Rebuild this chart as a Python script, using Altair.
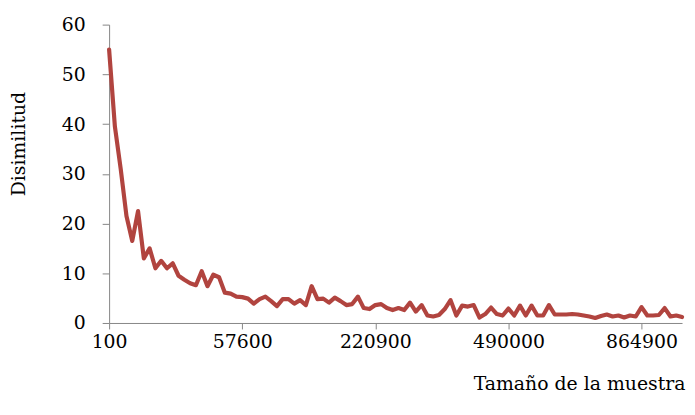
import altair as alt
import pandas as pd

# Sample sizes (categories on the x axis)
sample_sizes = [
    100, 400, 900, 1600, 2500, 3600, 4900, 6400, 8100, 10000,
    12100, 14400, 16900, 19600, 22500, 25600, 28900, 32400, 36100, 40000,
    44100, 48400, 52900, 57600, 62500, 67600, 72900, 78400, 84100, 90000,
    96100, 102400, 108900, 115600, 122500, 129600, 136900, 144400, 152100, 160000,
    168100, 176400, 184900, 193600, 202500, 211600, 220900, 230400, 240100, 250000,
    260100, 270400, 280900, 291600, 302500, 313600, 324900, 336400, 348100, 360000,
    372100, 384400, 396900, 409600, 422500, 435600, 448900, 462400, 476100, 490000,
    504100, 518400, 532900, 547600, 562500, 577600, 592900, 608400, 624100, 640000,
    656100, 672400, 688900, 705600, 722500, 739600, 756900, 774400, 792100, 810000,
    828100, 846400, 864900, 883600, 902500, 921600, 940900, 960400, 980100, 1000000,
]

# Dissimilarity values
dissimilarity = [
    55.0, 39.5, 31.0, 21.5, 16.5, 22.5, 13.0, 15.0, 11.0, 12.5,
    11.0, 12.0, 9.5, 8.7, 8.0, 7.6, 10.4, 7.4, 9.7, 9.2,
    6.1, 5.9, 5.3, 5.2, 4.9, 3.9, 4.8, 5.3, 4.4, 3.4,
    4.8, 4.8, 3.9, 4.6, 3.6, 7.4, 4.8, 4.9, 4.1, 5.1,
    4.4, 3.6, 3.8, 5.3, 3.0, 2.8, 3.6, 3.8, 3.0, 2.6,
    3.0, 2.6, 4.1, 2.3, 3.6, 1.5, 1.3, 1.6, 2.8, 4.6,
    1.5, 3.5, 3.3, 3.6, 1.1, 1.8, 3.1, 1.8, 1.5, 2.9,
    1.5, 3.5, 1.5, 3.5, 1.5, 1.5, 3.6, 1.7, 1.7, 1.7,
    1.8, 1.7, 1.5, 1.3, 1.0, 1.4, 1.7, 1.3, 1.5, 1.1,
    1.5, 1.3, 3.2, 1.5, 1.5, 1.6, 3.0, 1.3, 1.5, 1.2,
]

x_tick_labels = [100, 57600, 220900, 490000, 864900]
y_ticks = [0, 10, 20, 30, 40, 50, 60]

df = pd.DataFrame({"size": sample_sizes, "dis": dissimilarity})

FONT = "DejaVu Serif"
FS = 19
AXIS_COLOR = "#868686"

chart = (
    alt.Chart(df)
    .mark_line(color="#B1443F", strokeWidth=4.2, strokeJoin="round", strokeCap="round")
    .encode(
        x=alt.X(
            "size:O",
            sort=None,
            scale=alt.Scale(type="point", padding=0),
            axis=alt.Axis(
                values=x_tick_labels,
                labelAngle=0,
                title="Tamaño de la muestra",
                titleFont=FONT,
                titleFontSize=FS,
                titleFontWeight="normal",
                titleColor="#000000",
                titleAlign="right",
                titleAnchor="end",
                titleX=581,
                titleY=61,
                titleBaseline="middle",
                labelFont=FONT,
                labelFontSize=FS,
                labelColor="#000000",
                labelPadding=4,
                tickSize=6,
                tickColor=AXIS_COLOR,
                domainColor=AXIS_COLOR,
                labelOverlap=False,
                grid=False,
            ),
        ),
        y=alt.Y(
            "dis:Q",
            scale=alt.Scale(domain=[0, 60], nice=False),
            axis=alt.Axis(
                values=y_ticks,
                title="Disimilitud",
                titleFont=FONT,
                titleFontSize=FS,
                titleFontWeight="normal",
                titleColor="#000000",
                titleAngle=270,
                titleAlign="center",
                titleBaseline="middle",
                titleX=-91,
                titleY=120,
                labelFont=FONT,
                labelFontSize=FS,
                labelColor="#000000",
                labelPadding=17,
                tickSize=7,
                tickColor=AXIS_COLOR,
                domainColor=AXIS_COLOR,
                grid=False,
            ),
        ),
    )
    .properties(
        width=578,
        height=301,
        padding={"left": 102, "top": 15, "right": 5, "bottom": 85},
        autosize=alt.AutoSizeParams(type="none"),
    )
    .configure_view(stroke=None)
)

chart.save("out.html", embed_options={"renderer": "svg", "actions": False})
